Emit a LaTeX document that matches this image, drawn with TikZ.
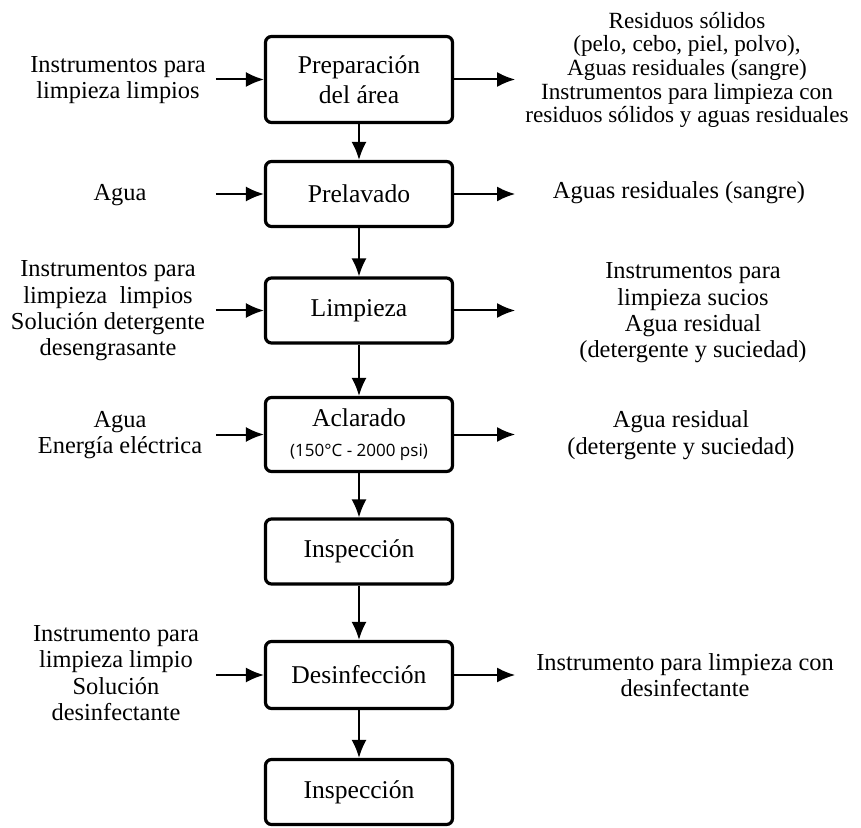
\documentclass[tikz,border=0pt]{standalone}
\usepackage{fontspec}
\setmainfont{Liberation Serif}
\newfontfamily\subfont{Open Sans}
\usetikzlibrary{arrows.meta, positioning}

\begin{document}
\begin{tikzpicture}[>={Latex[length=9pt,width=7.5pt]}, x=0.5pt, y=-0.5pt,
    paso/.style={draw, line width=1.6pt, rounded corners=3pt, minimum width=93.5pt,
        minimum height=32.5pt, align=center, font=\fontsize{12.8}{15}\selectfont},
    texto/.style={align=center, font=\fontsize{12.2}{13.2}\selectfont},
    flecha/.style={->, line width=1pt}]
    \useasboundingbox (0,0) rectangle (861,828);

    % 1. Etapas del proceso
    \node[paso, minimum height=43pt] (prep) at (359,79.5) {Preparación\\del área};
    \node[paso] (prel) at (359,194) {Prelavado};
    \node[paso] (limp) at (359,310.5) {Limpieza};
    \node[paso, minimum height=37pt] (acla) at (359,434.5)
        {Aclarado\\{\subfont\fontsize{8.5}{10}\selectfont (150°C - 2000 psi)}};
    \node[paso] (insp1) at (359,551.5) {Inspección};
    \node[paso, minimum height=33.5pt] (desi) at (359,675) {Desinfección};
    \node[paso] (insp2) at (359,792) {Inspección};

    % 2. Entradas
    \node[texto] (ent1) at (118,80) {Instrumentos para\\limpieza limpios};
    \node[texto] (ent2) at (120,195) {Agua};
    \node[texto] (ent3) at (108,311)
        {Instrumentos para\\limpieza~ limpios\\Solución detergente\\desengrasante};
    \node[texto] (ent4) at (120,435) {Agua\\Energía eléctrica};
    \node[texto] (ent6) at (116,673)
        {Instrumento para\\limpieza limpio\\Solución\\desinfectante};

    % 3. Salidas
    \node[texto, font=\fontsize{11.6}{11.8}\selectfont] (sal1) at (687,70)
        {Residuos sólidos\\(pelo, cebo, piel, polvo),\\Aguas residuales (sangre)\\
         Instrumentos para limpieza con\\residuos sólidos y aguas residuales};
    \node[texto] (sal2) at (679,193) {Aguas residuales (sangre)};
    \node[texto] (sal3) at (693,313)
        {Instrumentos para\\limpieza sucios\\Agua residual\\(detergente y suciedad)};
    \node[texto] (sal4) at (681,435) {Agua residual\\(detergente y suciedad)};
    \node[texto] (sal6) at (685,675) {Instrumento para limpieza con\\desinfectante};

    % 4. Flechas
    \foreach \a/\b in {prep/prel, prel/limp, limp/acla, acla/insp1, insp1/desi, desi/insp2}
        \draw[flecha] (\a) -- (\b);
    \foreach \p in {prep, prel, limp, acla, desi} {
        \coordinate[left=24pt of \p.west] (e\p);
        \coordinate[right=30.5pt of \p.east] (s\p);
        \draw[flecha] (e\p) -- (\p);
        \draw[flecha] (\p) -- (s\p);
    }
\end{tikzpicture}
\end{document}
